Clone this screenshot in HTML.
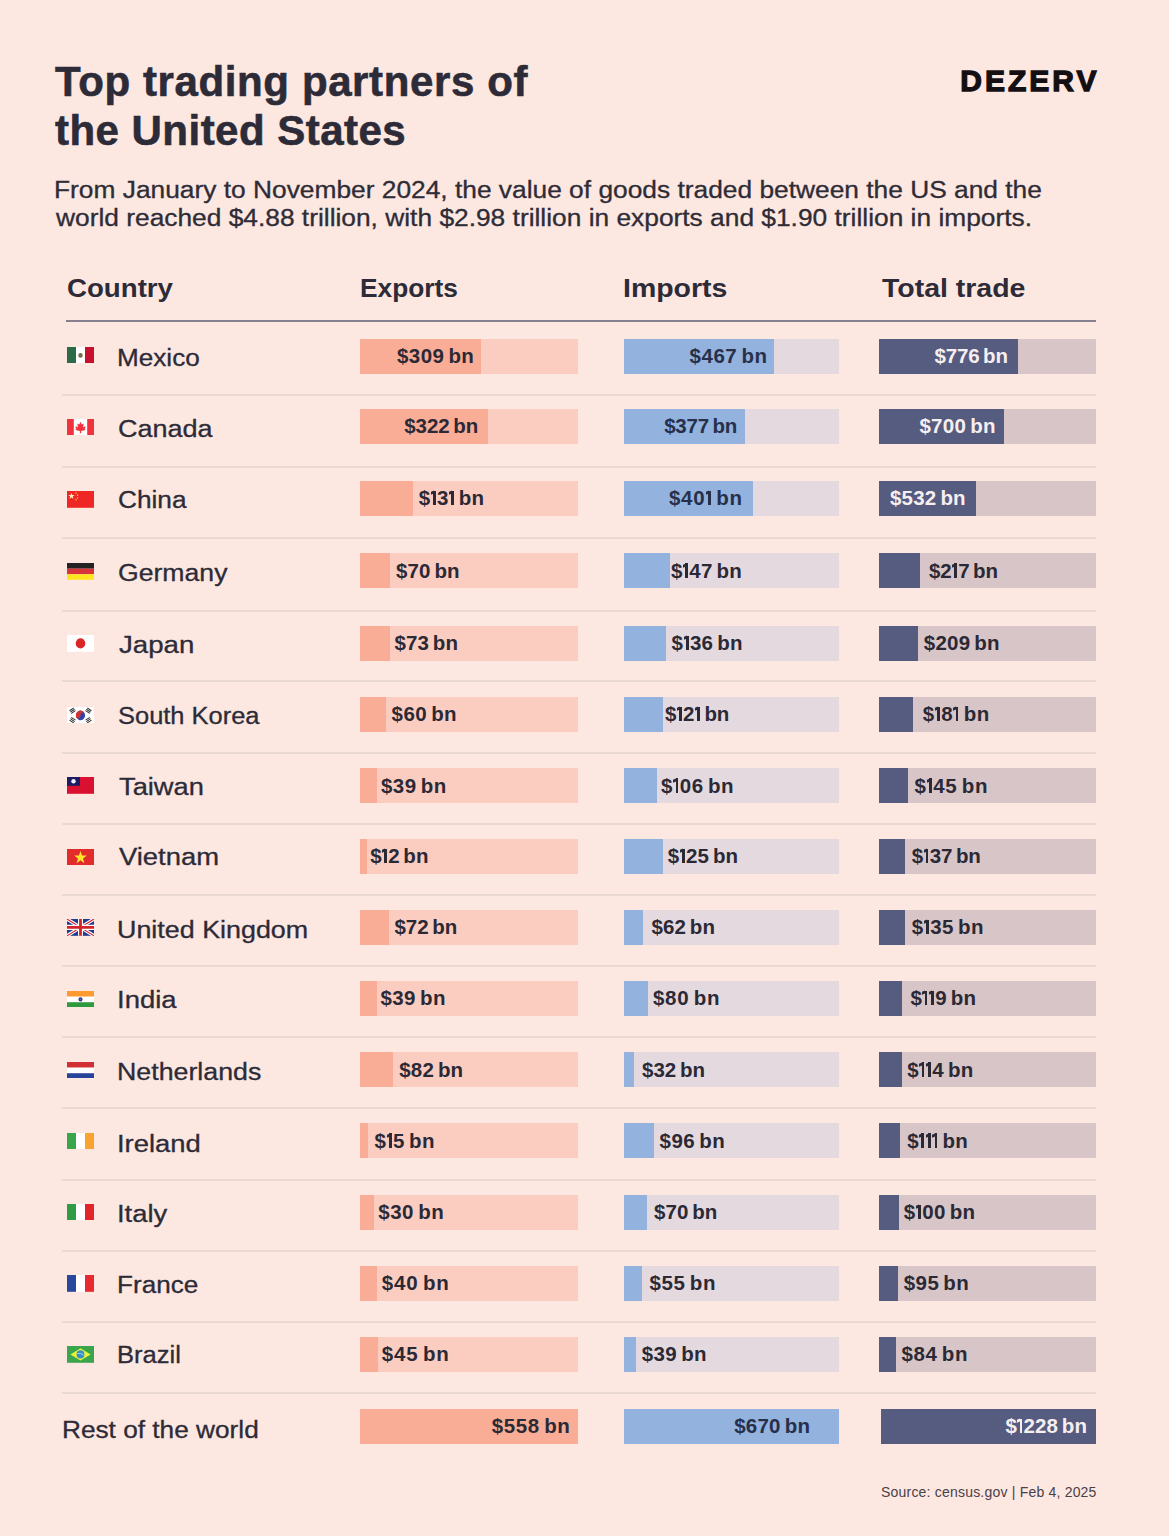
<!DOCTYPE html><html><head><meta charset="utf-8"><style>
*{margin:0;padding:0;box-sizing:border-box}
html,body{width:1169px;height:1536px;overflow:hidden;background:#fde7e1}
body{position:relative;font-family:"Liberation Sans",sans-serif;color:#2b2935}
.t{position:absolute;white-space:nowrap}
.r{position:absolute}
.o{display:inline-block;width:6.6px;height:14.3px;position:relative;vertical-align:baseline}
.o::before{content:"";position:absolute;left:2.7px;top:0;width:2.7px;height:14.3px;background:currentColor}
.o::after{content:"";position:absolute;left:0.4px;top:0.3px;width:3.4px;height:2.5px;background:currentColor;transform:skewY(-25deg)}
.f{position:absolute;width:27px;height:16.8px}
.f svg{display:block}
</style></head><body>
<div class="r" style="left:65.8px;top:320px;width:1030.4px;height:2px;background:#858191"></div>
<div class="r" style="left:62px;top:393.8px;width:1034px;height:2px;background:#ead8d3"></div>
<div class="r" style="left:62px;top:465.5px;width:1034px;height:2px;background:#ead8d3"></div>
<div class="r" style="left:62px;top:537.4px;width:1034px;height:2px;background:#ead8d3"></div>
<div class="r" style="left:62px;top:609.7px;width:1034px;height:2px;background:#ead8d3"></div>
<div class="r" style="left:62px;top:680.4px;width:1034px;height:2px;background:#ead8d3"></div>
<div class="r" style="left:62px;top:751.9px;width:1034px;height:2px;background:#ead8d3"></div>
<div class="r" style="left:62px;top:822.5px;width:1034px;height:2px;background:#ead8d3"></div>
<div class="r" style="left:62px;top:893.8px;width:1034px;height:2px;background:#ead8d3"></div>
<div class="r" style="left:62px;top:965.1px;width:1034px;height:2px;background:#ead8d3"></div>
<div class="r" style="left:62px;top:1036.2px;width:1034px;height:2px;background:#ead8d3"></div>
<div class="r" style="left:62px;top:1107.1px;width:1034px;height:2px;background:#ead8d3"></div>
<div class="r" style="left:62px;top:1179.1px;width:1034px;height:2px;background:#ead8d3"></div>
<div class="r" style="left:62px;top:1249.8px;width:1034px;height:2px;background:#ead8d3"></div>
<div class="r" style="left:62px;top:1321.1px;width:1034px;height:2px;background:#ead8d3"></div>
<div class="r" style="left:62px;top:1392.3px;width:1034px;height:2px;background:#ead8d3"></div>
<div class="r" style="left:360.3px;top:339.0px;width:217.7px;height:35px;background:#fbcdc1"></div>
<div class="r" style="left:360.3px;top:339.0px;width:121.2px;height:35px;background:#f9ad97"></div>
<div class="r" style="left:623.5px;top:339.0px;width:215.5px;height:35px;background:#e4d9df"></div>
<div class="r" style="left:623.5px;top:339.0px;width:150.8px;height:35px;background:#93b2de"></div>
<div class="r" style="left:879.2px;top:339.0px;width:217.0px;height:35px;background:#d7c5c7"></div>
<div class="r" style="left:879.2px;top:339.0px;width:139.2px;height:35px;background:#565b80"></div>
<div class="f" style="left:67px;top:346.6px"><svg width="27" height="16.8" viewBox="0 0 27 16" preserveAspectRatio="none"><rect width="9" height="16" fill="#2b6b48"/><rect x="9" width="9" height="16" fill="#fff"/><rect x="18" width="9" height="16" fill="#c8102e"/><circle cx="13.5" cy="8" r="2.2" fill="#7a6a45"/></svg></div>
<div class="r" style="left:360.3px;top:409.0px;width:217.7px;height:35px;background:#fbcdc1"></div>
<div class="r" style="left:360.3px;top:409.0px;width:127.3px;height:35px;background:#f9ad97"></div>
<div class="r" style="left:623.5px;top:409.0px;width:215.5px;height:35px;background:#e4d9df"></div>
<div class="r" style="left:623.5px;top:409.0px;width:121.5px;height:35px;background:#93b2de"></div>
<div class="r" style="left:879.2px;top:409.0px;width:217.0px;height:35px;background:#d7c5c7"></div>
<div class="r" style="left:879.2px;top:409.0px;width:125.3px;height:35px;background:#565b80"></div>
<div class="f" style="left:67px;top:418.6px"><svg width="27" height="16.8" viewBox="0 0 27 16" preserveAspectRatio="none"><rect width="27" height="16" fill="#fff"/><rect width="6.8" height="16" fill="#f0343f"/><rect x="20.2" width="6.8" height="16" fill="#f0343f"/><path d="M13.5 2.6 L14.8 5.2 L16.6 4.4 L16.1 8.2 L18.2 6.6 L18.4 8.6 L17.6 9.4 L18.6 10.4 L14.1 11.4 L14.2 13.6 L12.8 13.6 L12.9 11.4 L8.4 10.4 L9.4 9.4 L8.6 8.6 L8.8 6.6 L10.9 8.2 L10.4 4.4 L12.2 5.2 Z" fill="#f0343f"/></svg></div>
<div class="r" style="left:360.3px;top:481.3px;width:217.7px;height:35px;background:#fbcdc1"></div>
<div class="r" style="left:360.3px;top:481.3px;width:53.0px;height:35px;background:#f9ad97"></div>
<div class="r" style="left:623.5px;top:481.3px;width:215.5px;height:35px;background:#e4d9df"></div>
<div class="r" style="left:623.5px;top:481.3px;width:129.4px;height:35px;background:#93b2de"></div>
<div class="r" style="left:879.2px;top:481.3px;width:217.0px;height:35px;background:#d7c5c7"></div>
<div class="r" style="left:879.2px;top:481.3px;width:96.5px;height:35px;background:#565b80"></div>
<div class="f" style="left:67px;top:490.8px"><svg width="27" height="16.8" viewBox="0 0 27 16" preserveAspectRatio="none"><rect width="27" height="16" fill="#ef2626"/><polygon points="4.5,1.6 5.3,3.9 7.7,3.9 5.8,5.3 6.5,7.6 4.5,6.2 2.5,7.6 3.2,5.3 1.3,3.9 3.7,3.9" fill="#ffeab0"/><circle cx="9" cy="2" r="0.7" fill="#ffde00"/><circle cx="10.5" cy="4" r="0.7" fill="#ffde00"/><circle cx="10.5" cy="6.6" r="0.7" fill="#ffde00"/><circle cx="9" cy="8.4" r="0.7" fill="#ffde00"/></svg></div>
<div class="r" style="left:360.3px;top:553.4px;width:217.7px;height:35px;background:#fbcdc1"></div>
<div class="r" style="left:360.3px;top:553.4px;width:29.5px;height:35px;background:#f9ad97"></div>
<div class="r" style="left:623.5px;top:553.4px;width:215.5px;height:35px;background:#e4d9df"></div>
<div class="r" style="left:623.5px;top:553.4px;width:46.2px;height:35px;background:#93b2de"></div>
<div class="r" style="left:879.2px;top:553.4px;width:217.0px;height:35px;background:#d7c5c7"></div>
<div class="r" style="left:879.2px;top:553.4px;width:40.8px;height:35px;background:#565b80"></div>
<div class="f" style="left:67px;top:562.8px"><svg width="27" height="16.8" viewBox="0 0 27 16" preserveAspectRatio="none"><rect width="27" height="5.4" fill="#232323"/><rect y="5.4" width="27" height="5.3" fill="#d8323a"/><rect y="10.7" width="27" height="5.3" fill="#ffe51f"/></svg></div>
<div class="r" style="left:360.3px;top:626.0px;width:217.7px;height:35px;background:#fbcdc1"></div>
<div class="r" style="left:360.3px;top:626.0px;width:29.4px;height:35px;background:#f9ad97"></div>
<div class="r" style="left:623.5px;top:626.0px;width:215.5px;height:35px;background:#e4d9df"></div>
<div class="r" style="left:623.5px;top:626.0px;width:42.5px;height:35px;background:#93b2de"></div>
<div class="r" style="left:879.2px;top:626.0px;width:217.0px;height:35px;background:#d7c5c7"></div>
<div class="r" style="left:879.2px;top:626.0px;width:39.0px;height:35px;background:#565b80"></div>
<div class="f" style="left:67px;top:635.1px"><svg width="27" height="16.8" viewBox="0 0 27 16" preserveAspectRatio="none"><rect width="27" height="16" fill="#fff"/><circle cx="13.5" cy="8" r="4.8" fill="#dc2626"/></svg></div>
<div class="r" style="left:360.3px;top:696.7px;width:217.7px;height:35px;background:#fbcdc1"></div>
<div class="r" style="left:360.3px;top:696.7px;width:25.5px;height:35px;background:#f9ad97"></div>
<div class="r" style="left:623.5px;top:696.7px;width:215.5px;height:35px;background:#e4d9df"></div>
<div class="r" style="left:623.5px;top:696.7px;width:39.4px;height:35px;background:#93b2de"></div>
<div class="r" style="left:879.2px;top:696.7px;width:217.0px;height:35px;background:#d7c5c7"></div>
<div class="r" style="left:879.2px;top:696.7px;width:33.6px;height:35px;background:#565b80"></div>
<div class="f" style="left:67px;top:706.5px"><svg width="27" height="16.8" viewBox="0 0 27 16" preserveAspectRatio="none"><rect width="27" height="16" fill="#fff"/><g transform="rotate(-33.7 13.5 8)"><circle cx="13.5" cy="8" r="4.6" fill="#2f44a8"/><path d="M8.9 8 A4.6 4.6 0 0 1 18.1 8 Z" fill="#d9322d"/><circle cx="11.5" cy="8" r="1.5" fill="#d9322d"/><circle cx="15.5" cy="8" r="1.5" fill="#2f44a8"/></g><g transform="translate(5.5 3.5) rotate(-33)"><rect x="-2.5" y="-2" width="5" height="0.9" fill="#222"/><rect x="-2.5" y="-0.45" width="5" height="0.9" fill="#222"/><rect x="-2.5" y="1.1" width="5" height="0.9" fill="#222"/></g><g transform="translate(21.5 3.5) rotate(33)"><rect x="-2.5" y="-2" width="5" height="0.9" fill="#222"/><rect x="-2.5" y="-0.45" width="5" height="0.9" fill="#222"/><rect x="-2.5" y="1.1" width="5" height="0.9" fill="#222"/></g><g transform="translate(5.5 12.5) rotate(33)"><rect x="-2.5" y="-2" width="5" height="0.9" fill="#222"/><rect x="-2.5" y="-0.45" width="5" height="0.9" fill="#222"/><rect x="-2.5" y="1.1" width="5" height="0.9" fill="#222"/></g><g transform="translate(21.5 12.5) rotate(-33)"><rect x="-2.5" y="-2" width="5" height="0.9" fill="#222"/><rect x="-2.5" y="-0.45" width="5" height="0.9" fill="#222"/><rect x="-2.5" y="1.1" width="5" height="0.9" fill="#222"/></g></svg></div>
<div class="r" style="left:360.3px;top:768.4px;width:217.7px;height:35px;background:#fbcdc1"></div>
<div class="r" style="left:360.3px;top:768.4px;width:16.6px;height:35px;background:#f9ad97"></div>
<div class="r" style="left:623.5px;top:768.4px;width:215.5px;height:35px;background:#e4d9df"></div>
<div class="r" style="left:623.5px;top:768.4px;width:33.9px;height:35px;background:#93b2de"></div>
<div class="r" style="left:879.2px;top:768.4px;width:217.0px;height:35px;background:#d7c5c7"></div>
<div class="r" style="left:879.2px;top:768.4px;width:28.4px;height:35px;background:#565b80"></div>
<div class="f" style="left:67px;top:777.2px"><svg width="27" height="16.8" viewBox="0 0 27 16" preserveAspectRatio="none"><rect width="27" height="16" fill="#d9102f"/><rect width="13" height="8.4" fill="#1d1c62"/><circle cx="6.5" cy="4" r="2.2" fill="#eef"/></svg></div>
<div class="r" style="left:360.3px;top:838.9px;width:217.7px;height:35px;background:#fbcdc1"></div>
<div class="r" style="left:360.3px;top:838.9px;width:6.3px;height:35px;background:#f9ad97"></div>
<div class="r" style="left:623.5px;top:838.9px;width:215.5px;height:35px;background:#e4d9df"></div>
<div class="r" style="left:623.5px;top:838.9px;width:39.4px;height:35px;background:#93b2de"></div>
<div class="r" style="left:879.2px;top:838.9px;width:217.0px;height:35px;background:#d7c5c7"></div>
<div class="r" style="left:879.2px;top:838.9px;width:26.2px;height:35px;background:#565b80"></div>
<div class="f" style="left:67px;top:848.6px"><svg width="27" height="16.8" viewBox="0 0 27 16" preserveAspectRatio="none"><rect width="27" height="16" fill="#e22b2b"/><polygon points="13.5,1.8 15.1,6.3 19.8,6.3 16,9.1 17.4,13.6 13.5,10.8 9.6,13.6 11,9.1 7.2,6.3 11.9,6.3" fill="#ffe629"/></svg></div>
<div class="r" style="left:360.3px;top:910.2px;width:217.7px;height:35px;background:#fbcdc1"></div>
<div class="r" style="left:360.3px;top:910.2px;width:28.6px;height:35px;background:#f9ad97"></div>
<div class="r" style="left:623.5px;top:910.2px;width:215.5px;height:35px;background:#e4d9df"></div>
<div class="r" style="left:623.5px;top:910.2px;width:19.4px;height:35px;background:#93b2de"></div>
<div class="r" style="left:879.2px;top:910.2px;width:217.0px;height:35px;background:#d7c5c7"></div>
<div class="r" style="left:879.2px;top:910.2px;width:25.9px;height:35px;background:#565b80"></div>
<div class="f" style="left:67px;top:919.3px"><svg width="27" height="16.8" viewBox="0 0 27 16" preserveAspectRatio="none"><rect width="27" height="16" fill="#1f3a8f"/><path d="M0 0 L27 16 M27 0 L0 16" stroke="#fff" stroke-width="3.2"/><path d="M0 0 L27 16 M27 0 L0 16" stroke="#d2232c" stroke-width="1.1"/><path d="M13.5 0 V16 M0 8 H27" stroke="#fff" stroke-width="5"/><path d="M13.5 0 V16 M0 8 H27" stroke="#d2232c" stroke-width="2.8"/></svg></div>
<div class="r" style="left:360.3px;top:981.1px;width:217.7px;height:35px;background:#fbcdc1"></div>
<div class="r" style="left:360.3px;top:981.1px;width:16.6px;height:35px;background:#f9ad97"></div>
<div class="r" style="left:623.5px;top:981.1px;width:215.5px;height:35px;background:#e4d9df"></div>
<div class="r" style="left:623.5px;top:981.1px;width:24.5px;height:35px;background:#93b2de"></div>
<div class="r" style="left:879.2px;top:981.1px;width:217.0px;height:35px;background:#d7c5c7"></div>
<div class="r" style="left:879.2px;top:981.1px;width:22.8px;height:35px;background:#565b80"></div>
<div class="f" style="left:67px;top:990.6px"><svg width="27" height="16.8" viewBox="0 0 27 16" preserveAspectRatio="none"><rect width="27" height="5.4" fill="#ff9a2e"/><rect y="5.4" width="27" height="5.3" fill="#fff"/><rect y="10.7" width="27" height="5.3" fill="#2e9a40"/><circle cx="13.5" cy="8" r="2" fill="#2a2f7a"/><circle cx="13.5" cy="8" r="0.9" fill="#6a6fb0"/></svg></div>
<div class="r" style="left:360.3px;top:1052.4px;width:217.7px;height:35px;background:#fbcdc1"></div>
<div class="r" style="left:360.3px;top:1052.4px;width:32.7px;height:35px;background:#f9ad97"></div>
<div class="r" style="left:623.5px;top:1052.4px;width:215.5px;height:35px;background:#e4d9df"></div>
<div class="r" style="left:623.5px;top:1052.4px;width:10.8px;height:35px;background:#93b2de"></div>
<div class="r" style="left:879.2px;top:1052.4px;width:217.0px;height:35px;background:#d7c5c7"></div>
<div class="r" style="left:879.2px;top:1052.4px;width:22.5px;height:35px;background:#565b80"></div>
<div class="f" style="left:67px;top:1061.7px"><svg width="27" height="16.8" viewBox="0 0 27 16" preserveAspectRatio="none"><rect width="27" height="5.4" fill="#d22f35"/><rect y="5.4" width="27" height="5.3" fill="#fff"/><rect y="10.7" width="27" height="5.3" fill="#27449b"/></svg></div>
<div class="r" style="left:360.3px;top:1123.4px;width:217.7px;height:35px;background:#fbcdc1"></div>
<div class="r" style="left:360.3px;top:1123.4px;width:7.5px;height:35px;background:#f9ad97"></div>
<div class="r" style="left:623.5px;top:1123.4px;width:215.5px;height:35px;background:#e4d9df"></div>
<div class="r" style="left:623.5px;top:1123.4px;width:30.2px;height:35px;background:#93b2de"></div>
<div class="r" style="left:879.2px;top:1123.4px;width:217.0px;height:35px;background:#d7c5c7"></div>
<div class="r" style="left:879.2px;top:1123.4px;width:21.1px;height:35px;background:#565b80"></div>
<div class="f" style="left:67px;top:1132.6px"><svg width="27" height="16.8" viewBox="0 0 27 16" preserveAspectRatio="none"><rect width="9" height="16" fill="#3aa64b"/><rect x="9" width="9" height="16" fill="#fff"/><rect x="18" width="9" height="16" fill="#fba331"/></svg></div>
<div class="r" style="left:360.3px;top:1194.7px;width:217.7px;height:35px;background:#fbcdc1"></div>
<div class="r" style="left:360.3px;top:1194.7px;width:14.0px;height:35px;background:#f9ad97"></div>
<div class="r" style="left:623.5px;top:1194.7px;width:215.5px;height:35px;background:#e4d9df"></div>
<div class="r" style="left:623.5px;top:1194.7px;width:23.2px;height:35px;background:#93b2de"></div>
<div class="r" style="left:879.2px;top:1194.7px;width:217.0px;height:35px;background:#d7c5c7"></div>
<div class="r" style="left:879.2px;top:1194.7px;width:20.2px;height:35px;background:#565b80"></div>
<div class="f" style="left:67px;top:1203.7px"><svg width="27" height="16.8" viewBox="0 0 27 16" preserveAspectRatio="none"><rect width="9" height="16" fill="#2e9b45"/><rect x="9" width="9" height="16" fill="#fff"/><rect x="18" width="9" height="16" fill="#e2252a"/></svg></div>
<div class="r" style="left:360.3px;top:1266.0px;width:217.7px;height:35px;background:#fbcdc1"></div>
<div class="r" style="left:360.3px;top:1266.0px;width:16.6px;height:35px;background:#f9ad97"></div>
<div class="r" style="left:623.5px;top:1266.0px;width:215.5px;height:35px;background:#e4d9df"></div>
<div class="r" style="left:623.5px;top:1266.0px;width:18.0px;height:35px;background:#93b2de"></div>
<div class="r" style="left:879.2px;top:1266.0px;width:217.0px;height:35px;background:#d7c5c7"></div>
<div class="r" style="left:879.2px;top:1266.0px;width:19.0px;height:35px;background:#565b80"></div>
<div class="f" style="left:67px;top:1274.8px"><svg width="27" height="16.8" viewBox="0 0 27 16" preserveAspectRatio="none"><rect width="9" height="16" fill="#28489c"/><rect x="9" width="9" height="16" fill="#fff"/><rect x="18" width="9" height="16" fill="#e82a30"/></svg></div>
<div class="r" style="left:360.3px;top:1337.1px;width:217.7px;height:35px;background:#fbcdc1"></div>
<div class="r" style="left:360.3px;top:1337.1px;width:17.8px;height:35px;background:#f9ad97"></div>
<div class="r" style="left:623.5px;top:1337.1px;width:215.5px;height:35px;background:#e4d9df"></div>
<div class="r" style="left:623.5px;top:1337.1px;width:12.4px;height:35px;background:#93b2de"></div>
<div class="r" style="left:879.2px;top:1337.1px;width:217.0px;height:35px;background:#d7c5c7"></div>
<div class="r" style="left:879.2px;top:1337.1px;width:17.3px;height:35px;background:#565b80"></div>
<div class="f" style="left:67px;top:1346.2px"><svg width="27" height="16.8" viewBox="0 0 27 16" preserveAspectRatio="none"><rect width="27" height="16" fill="#3aa54a"/><polygon points="13.5,2.2 23.6,8 13.5,13.8 3.4,8" fill="#e4f43c"/><circle cx="13.5" cy="8" r="3.9" fill="#3a8ec6"/><path d="M10.2 7.2 Q13.5 6.2 16.8 8.6" stroke="#9fe0f0" stroke-width="0.8" fill="none"/></svg></div>
<div class="r" style="left:360.3px;top:1409.0px;width:217.7px;height:35px;background:#fbcdc1"></div>
<div class="r" style="left:360.3px;top:1409.0px;width:217.7px;height:35px;background:#f9ad97"></div>
<div class="r" style="left:623.5px;top:1409.0px;width:215.5px;height:35px;background:#e4d9df"></div>
<div class="r" style="left:623.5px;top:1409.0px;width:215.5px;height:35px;background:#93b2de"></div>
<div class="r" style="left:880.5px;top:1409.0px;width:215.7px;height:35px;background:#d7c5c7"></div>
<div class="r" style="left:880.5px;top:1409.0px;width:215.5px;height:35px;background:#565b80"></div>
<div id="title1" class="t" style="left:55.00px;top:57.70px;font-size:42px;line-height:47px;font-weight:700;color:#2c2b37;letter-spacing:0.614px;-webkit-text-stroke:0.6px currentColor;">Top trading partners of</div>
<div id="title2" class="t" style="left:55.00px;top:107.30px;font-size:42px;line-height:47px;font-weight:700;color:#2c2b37;letter-spacing:0.475px;-webkit-text-stroke:0.6px currentColor;">the United States</div>
<div id="logo" class="t" style="left:960.20px;top:63.60px;font-size:30px;line-height:33px;font-weight:700;color:#130f12;letter-spacing:3.040px;-webkit-text-stroke:1.3px currentColor;">DEZERV</div>
<div id="sub1" class="t" style="left:53.80px;top:176.60px;font-size:23px;line-height:26px;font-weight:400;color:#2e2c36;letter-spacing:0.000px;transform:scaleX(1.1447);transform-origin:0 0;-webkit-text-stroke:0.3px currentColor;">From January to November 2024, the value of goods traded between the US and the</div>
<div id="sub2" class="t" style="left:55.80px;top:204.60px;font-size:23px;line-height:26px;font-weight:400;color:#2e2c36;letter-spacing:0.000px;transform:scaleX(1.1446);transform-origin:0 0;-webkit-text-stroke:0.3px currentColor;">world reached $4.88 trillion, with $2.98 trillion in exports and $1.90 trillion in imports.</div>
<div id="hcountry" class="t" style="left:67.00px;top:273.40px;font-size:26px;line-height:30px;font-weight:700;color:#2c2b37;letter-spacing:0.000px;transform:scaleX(1.0634);transform-origin:0 0;">Country</div>
<div id="hexports" class="t" style="left:359.50px;top:273.40px;font-size:26px;line-height:30px;font-weight:700;color:#2c2b37;letter-spacing:0.000px;transform:scaleX(1.0107);transform-origin:0 0;">Exports</div>
<div id="himports" class="t" style="left:622.50px;top:273.40px;font-size:26px;line-height:30px;font-weight:700;color:#2c2b37;letter-spacing:0.000px;transform:scaleX(1.0946);transform-origin:0 0;">Imports</div>
<div id="htotal" class="t" style="left:882.00px;top:273.40px;font-size:26px;line-height:30px;font-weight:700;color:#2c2b37;letter-spacing:0.000px;transform:scaleX(1.0947);transform-origin:0 0;">Total trade</div>
<div id="source" class="t" style="left:881.00px;top:1483.50px;font-size:14px;line-height:16px;font-weight:400;color:#4a4148;letter-spacing:0.203px;">Source: census.gov | Feb 4, 2025</div>
<div id="c0" class="t" style="left:116.60px;top:345.30px;font-size:23.5px;line-height:26px;font-weight:400;color:#2c2b37;letter-spacing:0.000px;transform:scaleX(1.1111);transform-origin:0 0;-webkit-text-stroke:0.3px currentColor;">Mexico</div>
<div id="v0_0" class="t" style="left:397.00px;top:344.10px;font-size:20.5px;line-height:23px;font-weight:700;color:#2b2935;letter-spacing:0.417px;word-spacing:-2px;">$309 bn</div>
<div id="v0_1" class="t" style="left:689.60px;top:344.10px;font-size:20.5px;line-height:23px;font-weight:700;color:#27304a;letter-spacing:0.500px;word-spacing:-2px;">$467 bn</div>
<div id="v0_2" class="t" style="left:934.40px;top:344.10px;font-size:20.5px;line-height:23px;font-weight:700;color:#f6efef;letter-spacing:-0.133px;word-spacing:-2px;">$776 bn</div>
<div id="c1" class="t" style="left:117.60px;top:416.40px;font-size:23.5px;line-height:26px;font-weight:400;color:#2c2b37;letter-spacing:0.000px;transform:scaleX(1.1490);transform-origin:0 0;-webkit-text-stroke:0.3px currentColor;">Canada</div>
<div id="v1_0" class="t" style="left:404.20px;top:414.10px;font-size:20.5px;line-height:23px;font-weight:700;color:#2b2935;letter-spacing:-0.050px;word-spacing:-2px;">$322 bn</div>
<div id="v1_1" class="t" style="left:664.20px;top:414.10px;font-size:20.5px;line-height:23px;font-weight:700;color:#27304a;letter-spacing:-0.217px;word-spacing:-2px;">$377 bn</div>
<div id="v1_2" class="t" style="left:919.40px;top:414.10px;font-size:20.5px;line-height:23px;font-weight:700;color:#f6efef;letter-spacing:0.317px;word-spacing:-2px;">$700 bn</div>
<div id="c2" class="t" style="left:117.60px;top:486.90px;font-size:23.5px;line-height:26px;font-weight:400;color:#2c2b37;letter-spacing:0.000px;transform:scaleX(1.1166);transform-origin:0 0;-webkit-text-stroke:0.3px currentColor;">China</div>
<div id="v2_0" class="t" style="left:418.80px;top:486.40px;font-size:20.5px;line-height:23px;font-weight:700;color:#2b2935;letter-spacing:0.117px;word-spacing:-2px;">$<span class="o"></span>3<span class="o"></span> bn</div>
<div id="v2_1" class="t" style="left:669.00px;top:486.40px;font-size:20.5px;line-height:23px;font-weight:700;color:#27304a;letter-spacing:0.700px;word-spacing:-2px;">$40<span class="o"></span> bn</div>
<div id="v2_2" class="t" style="left:890.00px;top:486.40px;font-size:20.5px;line-height:23px;font-weight:700;color:#f6efef;letter-spacing:0.217px;word-spacing:-2px;">$532 bn</div>
<div id="c3" class="t" style="left:117.60px;top:559.70px;font-size:23.5px;line-height:26px;font-weight:400;color:#2c2b37;letter-spacing:0.000px;transform:scaleX(1.1325);transform-origin:0 0;-webkit-text-stroke:0.3px currentColor;">Germany</div>
<div id="v3_0" class="t" style="left:396.00px;top:558.50px;font-size:20.5px;line-height:23px;font-weight:700;color:#2b2935;letter-spacing:0.120px;word-spacing:-2px;">$70 bn</div>
<div id="v3_1" class="t" style="left:671.00px;top:558.50px;font-size:20.5px;line-height:23px;font-weight:700;color:#2b2935;letter-spacing:0.267px;word-spacing:-2px;">$<span class="o"></span>47 bn</div>
<div id="v3_2" class="t" style="left:929.00px;top:558.50px;font-size:20.5px;line-height:23px;font-weight:700;color:#2b2935;letter-spacing:-0.100px;word-spacing:-2px;">$2<span class="o"></span>7 bn</div>
<div id="c4" class="t" style="left:118.60px;top:632.00px;font-size:23.5px;line-height:26px;font-weight:400;color:#2c2b37;letter-spacing:0.000px;transform:scaleX(1.1762);transform-origin:0 0;-webkit-text-stroke:0.3px currentColor;">Japan</div>
<div id="v4_0" class="t" style="left:394.40px;top:631.10px;font-size:20.5px;line-height:23px;font-weight:700;color:#2b2935;letter-spacing:0.120px;word-spacing:-2px;">$73 bn</div>
<div id="v4_1" class="t" style="left:671.60px;top:631.10px;font-size:20.5px;line-height:23px;font-weight:700;color:#2b2935;letter-spacing:0.300px;word-spacing:-2px;">$<span class="o"></span>36 bn</div>
<div id="v4_2" class="t" style="left:923.80px;top:631.10px;font-size:20.5px;line-height:23px;font-weight:700;color:#2b2935;letter-spacing:0.217px;word-spacing:-2px;">$209 bn</div>
<div id="c5" class="t" style="left:117.60px;top:703.00px;font-size:23.5px;line-height:26px;font-weight:400;color:#2c2b37;letter-spacing:0.000px;transform:scaleX(1.0831);transform-origin:0 0;-webkit-text-stroke:0.3px currentColor;">South Korea</div>
<div id="v5_0" class="t" style="left:391.60px;top:701.80px;font-size:20.5px;line-height:23px;font-weight:700;color:#2b2935;letter-spacing:0.420px;word-spacing:-2px;">$60 bn</div>
<div id="v5_1" class="t" style="left:665.00px;top:701.80px;font-size:20.5px;line-height:23px;font-weight:700;color:#2b2935;letter-spacing:-0.100px;word-spacing:-2px;">$<span class="o"></span>2<span class="o"></span> bn</div>
<div id="v5_2" class="t" style="left:922.80px;top:701.80px;font-size:20.5px;line-height:23px;font-weight:700;color:#2b2935;letter-spacing:0.433px;word-spacing:-2px;">$<span class="o"></span>8<span class="o"></span> bn</div>
<div id="c6" class="t" style="left:118.60px;top:774.20px;font-size:23.5px;line-height:26px;font-weight:400;color:#2c2b37;letter-spacing:0.000px;transform:scaleX(1.1598);transform-origin:0 0;-webkit-text-stroke:0.3px currentColor;">Taiwan</div>
<div id="v6_0" class="t" style="left:381.00px;top:773.50px;font-size:20.5px;line-height:23px;font-weight:700;color:#2b2935;letter-spacing:0.460px;word-spacing:-2px;">$39 bn</div>
<div id="v6_1" class="t" style="left:661.00px;top:773.50px;font-size:20.5px;line-height:23px;font-weight:700;color:#2b2935;letter-spacing:0.617px;word-spacing:-2px;">$<span class="o"></span>06 bn</div>
<div id="v6_2" class="t" style="left:914.60px;top:773.50px;font-size:20.5px;line-height:23px;font-weight:700;color:#2b2935;letter-spacing:0.667px;word-spacing:-2px;">$<span class="o"></span>45 bn</div>
<div id="c7" class="t" style="left:118.60px;top:844.40px;font-size:23.5px;line-height:26px;font-weight:400;color:#2c2b37;letter-spacing:0.000px;transform:scaleX(1.1657);transform-origin:0 0;-webkit-text-stroke:0.3px currentColor;">Vietnam</div>
<div id="v7_0" class="t" style="left:370.20px;top:844.00px;font-size:20.5px;line-height:23px;font-weight:700;color:#2b2935;letter-spacing:0.020px;word-spacing:-2px;">$<span class="o"></span>2 bn</div>
<div id="v7_1" class="t" style="left:667.80px;top:844.00px;font-size:20.5px;line-height:23px;font-weight:700;color:#2b2935;letter-spacing:0.150px;word-spacing:-2px;">$<span class="o"></span>25 bn</div>
<div id="v7_2" class="t" style="left:911.80px;top:844.00px;font-size:20.5px;line-height:23px;font-weight:700;color:#2b2935;letter-spacing:-0.100px;word-spacing:-2px;">$<span class="o"></span>37 bn</div>
<div id="c8" class="t" style="left:116.60px;top:917.40px;font-size:23.5px;line-height:26px;font-weight:400;color:#2c2b37;letter-spacing:0.000px;transform:scaleX(1.1434);transform-origin:0 0;-webkit-text-stroke:0.3px currentColor;">United Kingdom</div>
<div id="v8_0" class="t" style="left:394.40px;top:915.30px;font-size:20.5px;line-height:23px;font-weight:700;color:#2b2935;letter-spacing:-0.020px;word-spacing:-2px;">$72 bn</div>
<div id="v8_1" class="t" style="left:651.60px;top:915.30px;font-size:20.5px;line-height:23px;font-weight:700;color:#2b2935;letter-spacing:0.080px;word-spacing:-2px;">$62 bn</div>
<div id="v8_2" class="t" style="left:911.80px;top:915.30px;font-size:20.5px;line-height:23px;font-weight:700;color:#2b2935;letter-spacing:0.450px;word-spacing:-2px;">$<span class="o"></span>35 bn</div>
<div id="c9" class="t" style="left:116.60px;top:986.80px;font-size:23.5px;line-height:26px;font-weight:400;color:#2c2b37;letter-spacing:0.000px;transform:scaleX(1.1679);transform-origin:0 0;-webkit-text-stroke:0.3px currentColor;">India</div>
<div id="v9_0" class="t" style="left:380.40px;top:986.20px;font-size:20.5px;line-height:23px;font-weight:700;color:#2b2935;letter-spacing:0.420px;word-spacing:-2px;">$39 bn</div>
<div id="v9_1" class="t" style="left:653.00px;top:986.20px;font-size:20.5px;line-height:23px;font-weight:700;color:#2b2935;letter-spacing:0.700px;word-spacing:-2px;">$80 bn</div>
<div id="v9_2" class="t" style="left:910.40px;top:986.20px;font-size:20.5px;line-height:23px;font-weight:700;color:#2b2935;letter-spacing:0.250px;word-spacing:-2px;">$<span class="o"></span><span class="o"></span>9 bn</div>
<div id="c10" class="t" style="left:116.60px;top:1058.70px;font-size:23.5px;line-height:26px;font-weight:400;color:#2c2b37;letter-spacing:0.000px;transform:scaleX(1.1388);transform-origin:0 0;-webkit-text-stroke:0.3px currentColor;">Netherlands</div>
<div id="v10_0" class="t" style="left:399.20px;top:1057.50px;font-size:20.5px;line-height:23px;font-weight:700;color:#2b2935;letter-spacing:0.200px;word-spacing:-2px;">$82 bn</div>
<div id="v10_1" class="t" style="left:642.00px;top:1057.50px;font-size:20.5px;line-height:23px;font-weight:700;color:#2b2935;letter-spacing:0.000px;word-spacing:-2px;">$32 bn</div>
<div id="v10_2" class="t" style="left:907.20px;top:1057.50px;font-size:20.5px;line-height:23px;font-weight:700;color:#2b2935;letter-spacing:0.350px;word-spacing:-2px;">$<span class="o"></span><span class="o"></span>4 bn</div>
<div id="c11" class="t" style="left:116.60px;top:1130.80px;font-size:23.5px;line-height:26px;font-weight:400;color:#2c2b37;letter-spacing:0.000px;transform:scaleX(1.1660);transform-origin:0 0;-webkit-text-stroke:0.3px currentColor;">Ireland</div>
<div id="v11_0" class="t" style="left:374.40px;top:1128.50px;font-size:20.5px;line-height:23px;font-weight:700;color:#2b2935;letter-spacing:0.500px;word-spacing:-2px;">$<span class="o"></span>5 bn</div>
<div id="v11_1" class="t" style="left:659.60px;top:1128.50px;font-size:20.5px;line-height:23px;font-weight:700;color:#2b2935;letter-spacing:0.440px;word-spacing:-2px;">$96 bn</div>
<div id="v11_2" class="t" style="left:907.20px;top:1128.50px;font-size:20.5px;line-height:23px;font-weight:700;color:#2b2935;letter-spacing:0.183px;word-spacing:-2px;">$<span class="o"></span><span class="o"></span><span class="o"></span> bn</div>
<div id="c12" class="t" style="left:116.60px;top:1201.10px;font-size:23.5px;line-height:26px;font-weight:400;color:#2c2b37;letter-spacing:0.000px;transform:scaleX(1.1672);transform-origin:0 0;-webkit-text-stroke:0.3px currentColor;">Italy</div>
<div id="v12_0" class="t" style="left:378.20px;top:1199.80px;font-size:20.5px;line-height:23px;font-weight:700;color:#2b2935;letter-spacing:0.540px;word-spacing:-2px;">$30 bn</div>
<div id="v12_1" class="t" style="left:654.00px;top:1199.80px;font-size:20.5px;line-height:23px;font-weight:700;color:#2b2935;letter-spacing:0.060px;word-spacing:-2px;">$70 bn</div>
<div id="v12_2" class="t" style="left:903.80px;top:1199.80px;font-size:20.5px;line-height:23px;font-weight:700;color:#2b2935;letter-spacing:0.350px;word-spacing:-2px;">$<span class="o"></span>00 bn</div>
<div id="c13" class="t" style="left:116.60px;top:1271.80px;font-size:23.5px;line-height:26px;font-weight:400;color:#2c2b37;letter-spacing:0.000px;transform:scaleX(1.1104);transform-origin:0 0;-webkit-text-stroke:0.3px currentColor;">France</div>
<div id="v13_0" class="t" style="left:381.80px;top:1271.10px;font-size:20.5px;line-height:23px;font-weight:700;color:#2b2935;letter-spacing:0.800px;word-spacing:-2px;">$40 bn</div>
<div id="v13_1" class="t" style="left:649.40px;top:1271.10px;font-size:20.5px;line-height:23px;font-weight:700;color:#2b2935;letter-spacing:0.640px;word-spacing:-2px;">$55 bn</div>
<div id="v13_2" class="t" style="left:903.80px;top:1271.10px;font-size:20.5px;line-height:23px;font-weight:700;color:#2b2935;letter-spacing:0.400px;word-spacing:-2px;">$95 bn</div>
<div id="c14" class="t" style="left:116.60px;top:1342.40px;font-size:23.5px;line-height:26px;font-weight:400;color:#2c2b37;letter-spacing:0.000px;transform:scaleX(1.0862);transform-origin:0 0;-webkit-text-stroke:0.3px currentColor;">Brazil</div>
<div id="v14_0" class="t" style="left:381.80px;top:1342.20px;font-size:20.5px;line-height:23px;font-weight:700;color:#2b2935;letter-spacing:0.800px;word-spacing:-2px;">$45 bn</div>
<div id="v14_1" class="t" style="left:641.80px;top:1342.20px;font-size:20.5px;line-height:23px;font-weight:700;color:#2b2935;letter-spacing:0.380px;word-spacing:-2px;">$39 bn</div>
<div id="v14_2" class="t" style="left:901.40px;top:1342.20px;font-size:20.5px;line-height:23px;font-weight:700;color:#2b2935;letter-spacing:0.620px;word-spacing:-2px;">$84 bn</div>
<div id="c15" class="t" style="left:62.40px;top:1416.60px;font-size:23.5px;line-height:26px;font-weight:400;color:#2c2b37;letter-spacing:0.000px;transform:scaleX(1.1156);transform-origin:0 0;-webkit-text-stroke:0.3px currentColor;">Rest of the world</div>
<div id="v15_0" class="t" style="left:491.80px;top:1414.10px;font-size:20.5px;line-height:23px;font-weight:700;color:#2b2935;letter-spacing:0.617px;word-spacing:-2px;">$558 bn</div>
<div id="v15_1" class="t" style="left:734.20px;top:1414.10px;font-size:20.5px;line-height:23px;font-weight:700;color:#27304a;letter-spacing:0.233px;word-spacing:-2px;">$670 bn</div>
<div id="v15_2" class="t" style="left:1005.40px;top:1414.10px;font-size:20.5px;line-height:23px;font-weight:700;color:#f6efef;letter-spacing:0.114px;word-spacing:-2px;">$<span class="o"></span>228 bn</div>
</body></html>
